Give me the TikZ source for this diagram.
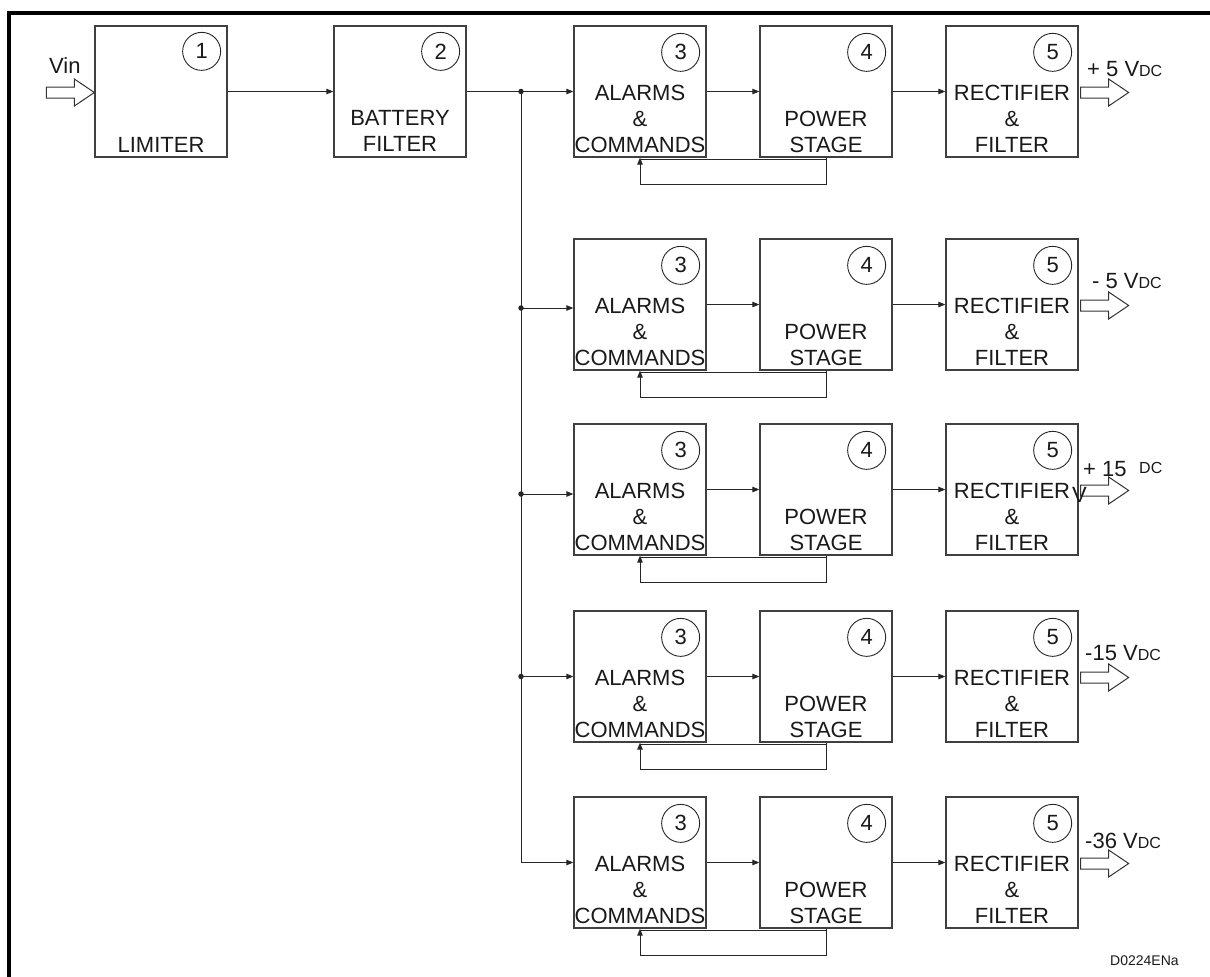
\documentclass[tikz,border=0pt]{standalone}
\usepackage{fontspec}
\setmainfont{Liberation Sans}
\usetikzlibrary{arrows.meta,calc}
\newcommand\myL{\fontsize{22}{26}\selectfont}
\newcommand\myS{\fontsize{16}{19}\selectfont}
\begin{document}
\begin{tikzpicture}[x=1pt,y=-1pt,
 blk/.style={draw=black!75,line width=1.3pt,minimum width=132pt,minimum height=131pt,inner sep=0pt},
 numc/.style={draw=black!85,circle,line width=0.9pt,minimum size=38pt,inner sep=0pt,font=\fontsize{22}{24}\selectfont,text=black!90},
 txt/.style={anchor=base,inner sep=0pt,font=\myL,text=black!90},
 conn/.style={draw=black!85,line width=1pt},
 arr/.style={conn,-{Triangle[length=7pt,width=5.5pt]}},
 dot/.style={circle,fill=black!85,minimum size=5.5pt,inner sep=0pt},
 hollow/.style={draw=black!80,line width=1pt,fill=white,line join=miter},
 vlbl/.style={anchor=base west,inner sep=0pt,text=black!90,font=\myL}]
\useasboundingbox (0,0) rectangle (1210,977);
\draw[line width=4pt,line join=miter] (9,977) -- (9,13) -- (1210,13);

% first stages
\node[blk] (b1) at (161,91.5) {};
\node[numc] (n1) at ($(b1.north east)+(-26,26)$) {1};
\node[txt] (t1) at ($(b1.south)+(0,-5)$) {LIMITER};
\node[blk] (b2) at (400,91.5) {};
\node[numc] (n2) at ($(b2.north east)+(-26,26)$) {2};
\node[txt] (t2a) at ($(b2.south)+(0,-32)$) {BATTERY};
\node[txt] (t2b) at ($(b2.south)+(0,-6)$) {FILTER};
\draw[arr] (b1) -- (b2);

% Vin input
\coordinate (vin) at ($(b1.west)+(0,1)$);
\draw[hollow] ($(vin)+(-48,-5.5)$) -- ++(28,0) -- ++(0,-8) -- ++(20,13.5) -- ++(-20,13.5) -- ++(0,-8) -- ++(-28,0) -- cycle;
\node[vlbl] (vinl) at (49,73) {Vin};

% rows
\foreach \T/\o [count=\i] in {26/0,239/3.5,424/4.5,611/0,797/0} {
  \node[blk] (a\i) at (640,{\T+65.5}) {};
  \node[blk] (p\i) at (826,{\T+65.5}) {};
  \node[blk] (r\i) at (1012,{\T+65.5}) {};
  \node[numc] (na\i) at ($(a\i.north east)+(-26,27)$) {3};
  \node[numc] (np\i) at ($(p\i.north east)+(-26,27)$) {4};
  \node[numc] (nr\i) at ($(r\i.north east)+(-26,27)$) {5};
  \node[txt] (ta\i a) at ($(a\i.south)+(0,-57)$) {ALARMS};
  \node[txt] (ta\i b) at ($(a\i.south)+(0,-31)$) {\&};
  \node[txt] (ta\i c) at ($(a\i.south)+(0,-5)$) {COMMANDS};
  \node[txt] (tp\i a) at ($(p\i.south)+(0,-31)$) {POWER};
  \node[txt] (tp\i b) at ($(p\i.south)+(0,-5)$) {STAGE};
  \node[txt] (tr\i a) at ($(r\i.south)+(0,-57)$) {RECTIFIER};
  \node[txt] (tr\i b) at ($(r\i.south)+(0,-31)$) {\&};
  \node[txt] (tr\i c) at ($(r\i.south)+(0,-5)$) {FILTER};
  \draw[arr] (a\i) -- (p\i);
  \draw[arr] (p\i) -- (r\i);
  \draw[arr] (p\i.south) -- ++(0,26.5) -| (a\i.south);
  \draw[conn] ([yshift=-1.5pt]a\i.south) -- ([yshift=-1.5pt]p\i.south);
  \coordinate (j\i) at (521,{\T+65.5+\o});
  \coordinate (o\i) at ($(r\i.east)+(0,1)$);
  \draw[hollow] ($(o\i)+(2,-5.5)$) -- ++(28,0) -- ++(0,-8) -- ++(20,13.5) -- ++(-20,13.5) -- ++(0,-8) -- ++(-28,0) -- cycle;
}

% bus
\draw[arr] (b2) -- (a1);
\node[dot] (d1) at (j1) {};
\foreach \i in {2,3,4} {
  \node[dot] (d\i) at (j\i) {};
  \draw[arr] (j\i) -- (j\i -| a\i.west);
}
\draw[arr] (j1) -- (j5) -- (j5 -| a5.west);

% output labels
\node[vlbl] (l1) at (1087,76) {+ 5 V{\myS DC}};
\node[vlbl] (l2) at (1092,288) {- 5 V{\myS DC}};
\node[vlbl] (l3) at (1083,476) {+ 15};
\node[vlbl,font=\myS] (l3b) at (1139,473) {DC};
\node[vlbl] (l3c) at (1072,502) {V};
\node[vlbl] (l4) at (1085,660) {-15 V{\myS DC}};
\node[vlbl] (l5) at (1085,848) {-36 V{\myS DC}};
\node[vlbl,font=\fontsize{14}{16}\selectfont] (ref) at (1110,965) {D0224ENa};
\end{tikzpicture}
\end{document}
